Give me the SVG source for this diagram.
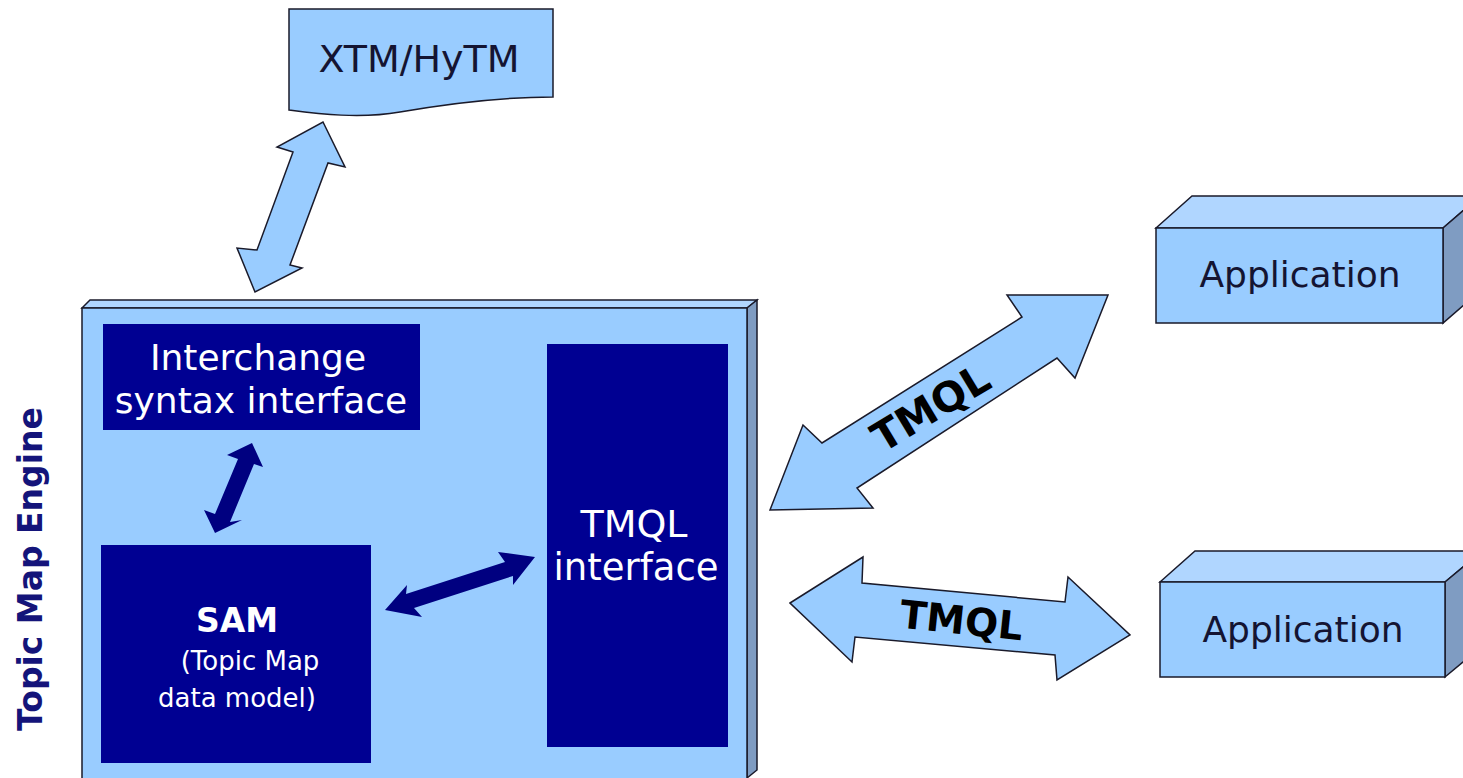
<svg xmlns="http://www.w3.org/2000/svg" width="1463" height="778" viewBox="0 0 1463 778">
<style>
.lb{fill:#99ccff;stroke:#1a1a2a;stroke-width:1.5;stroke-linejoin:miter}
.top{fill:#b0d6ff;stroke:#1a1a2a;stroke-width:1.5}
.side{fill:#7f9cc2;stroke:#1a1a2a;stroke-width:1.5}
.navy{fill:#000092}
.nav-arrow{fill:#000080}
.wt{font-family:"DejaVu Sans",sans-serif;fill:#ffffff;text-anchor:middle}
.dk{font-family:"DejaVu Sans",sans-serif;fill:#141432;text-anchor:middle}
.bk{font-family:"DejaVu Sans",sans-serif;font-weight:bold;fill:#000000;text-anchor:middle}
</style>
<rect x="0" y="0" width="1463" height="778" fill="#ffffff"/>

<g id="xtm-hytm">
  <path class="lb" d="M289,9 L553,9 L553,97 C500,97 440,105 400,112 C360,119 320,114 289,110 Z"/>
  <text class="dk" x="419" y="72" font-size="38">XTM/HyTM</text>
</g>

<g id="topic-map-engine">
  <polygon class="top" points="82,308 90,300 757,300 747,308"/>
  <polygon class="side" points="747,308 757,300 757,770 747,778"/>
  <rect class="lb" x="82" y="308" width="665" height="475"/>
  <text font-family="DejaVu Sans, sans-serif" font-weight="bold" font-size="33" fill="#14147a" text-anchor="middle" transform="translate(42,569) rotate(-90)">Topic Map Engine</text>
</g>

<g id="interchange-syntax-interface">
  <rect class="navy" x="103" y="324" width="317" height="106"/>
  <text class="wt" x="258" y="370" font-size="36">Interchange</text>
  <text class="wt" x="261" y="413" font-size="36">syntax interface</text>
</g>

<g id="sam">
  <rect class="navy" x="101" y="545" width="270" height="218"/>
  <text class="wt" x="237" y="632" font-size="33" font-weight="bold">SAM</text>
  <text class="wt" x="250" y="670" font-size="26">(Topic Map</text>
  <text class="wt" x="237" y="707" font-size="26">data model)</text>
</g>

<g id="tmql-interface">
  <rect class="navy" x="547" y="344" width="181" height="403"/>
  <text class="wt" x="634" y="537" font-size="38">TMQL</text>
  <text class="wt" x="636" y="580" font-size="37">interface</text>
</g>

<g id="application-1">
  <polygon class="top" points="1156,228 1192,196 1480,196 1443,228"/>
  <polygon class="side" points="1443,228 1480,196 1480,291 1443,323"/>
  <rect class="lb" x="1156" y="228" width="287" height="95"/>
  <text class="dk" x="1300" y="287" font-size="36">Application</text>
</g>

<g id="application-2">
  <polygon class="top" points="1160,582 1195,551 1482,551 1445,582"/>
  <polygon class="side" points="1445,582 1482,551 1482,646 1445,677"/>
  <rect class="lb" x="1160" y="582" width="285" height="95"/>
  <text class="dk" x="1303" y="642" font-size="36">Application</text>
</g>

<g id="connectors">
  <polygon id="arrow-xtm" class="lb" points="323,122 345,167 328,163 290,265 302,268 255,292 237,248 257,250 293,152 277,147"/>
  <polygon id="arrow-isi-sam" class="nav-arrow" points="252,443 263,467 254,464 230,522 242,520 215,533 204,510 215,514 238,459 227,455"/>
  <polygon id="arrow-sam-tmql" class="nav-arrow" points="385,610 407,585 406,594 505,562 498,552 535,557 513,585 513,576 414,608 422,617"/>
  <g id="arrow-tmql-1">
    <polygon class="lb" points="770,510 803,425 822,443 1022,317 1007,295 1108,295 1075,378 1057,358 857,488 873,508"/>
    <text class="bk" font-size="41" transform="translate(938,420) rotate(-31)">TMQL</text>
  </g>
  <g id="arrow-tmql-2">
    <polygon class="lb" points="790,603 863,557 862,583 1065,602 1068,577 1130,635 1057,680 1055,655 855,637 852,662"/>
    <text class="bk" font-size="39" transform="translate(960,634) rotate(6)">TMQL</text>
  </g>
</g>
</svg>
